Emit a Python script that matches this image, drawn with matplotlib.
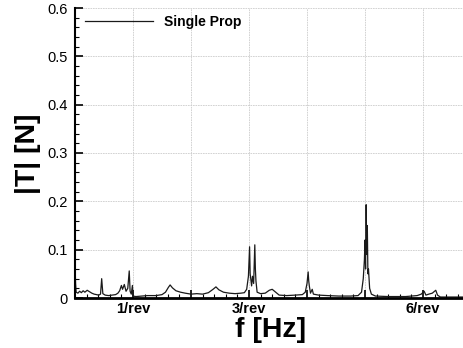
import matplotlib
matplotlib.use("Agg")
import matplotlib.pyplot as plt
from matplotlib.ticker import MultipleLocator

plt.rcParams['font.family'] = ['Liberation Sans', 'DejaVu Sans']

# ── data (x in multiples of rotor frequency) ───────────────────────────────
freq_rev = [0.00, 0.01, 0.02, 0.05, 0.08, 0.11, 0.14, 0.17, 0.21, 0.25,
            0.29, 0.33, 0.37, 0.41, 0.44, 0.46, 0.48, 0.52, 0.58, 0.64,
            0.70, 0.74, 0.77, 0.80, 0.82, 0.85, 0.88, 0.91, 0.935, 0.95,
            0.97, 0.99, 1.00, 1.05, 1.15, 1.25, 1.40, 1.50, 1.56, 1.61,
            1.64, 1.68, 1.74, 1.82, 1.90, 2.00, 2.10, 2.20, 2.30, 2.38,
            2.43, 2.48, 2.56, 2.66, 2.76, 2.86, 2.92, 2.96, 2.99, 3.01,
            3.02, 3.03, 3.045, 3.06, 3.08, 3.10, 3.11, 3.12, 3.14, 3.20,
            3.28, 3.35, 3.40, 3.46, 3.52, 3.65, 3.80, 3.92, 3.97, 4.00,
            4.02, 4.03, 4.04, 4.06, 4.09, 4.11, 4.20, 4.35, 4.55, 4.75,
            4.88, 4.94, 4.97, 4.99, 5.00, 5.01, 5.02, 5.03, 5.04, 5.05,
            5.06, 5.08, 5.11, 5.18, 5.40, 5.70, 5.90, 5.97, 6.02, 6.05,
            6.10, 6.16, 6.22, 6.25, 6.30, 6.70]
thrust = [0.072, 0.030, 0.012, 0.010, 0.014, 0.011, 0.015, 0.012, 0.016, 0.013,
          0.010, 0.008, 0.007, 0.006, 0.008, 0.040, 0.009, 0.006, 0.005, 0.006,
          0.007, 0.010, 0.015, 0.026, 0.018, 0.028, 0.014, 0.020, 0.056, 0.014,
          0.008, 0.026, 0.004, 0.003, 0.004, 0.005, 0.005, 0.007, 0.012, 0.022,
          0.027, 0.021, 0.015, 0.012, 0.010, 0.008, 0.009, 0.008, 0.011, 0.018,
          0.023, 0.017, 0.012, 0.010, 0.009, 0.010, 0.011, 0.018, 0.045, 0.106,
          0.050, 0.040, 0.025, 0.045, 0.030, 0.110, 0.060, 0.035, 0.012, 0.009,
          0.010, 0.016, 0.018, 0.012, 0.006, 0.005, 0.006, 0.007, 0.012, 0.030,
          0.054, 0.035, 0.025, 0.010, 0.018, 0.008, 0.006, 0.005, 0.004, 0.004,
          0.005, 0.012, 0.040, 0.080, 0.120, 0.060, 0.193, 0.090, 0.150, 0.050,
          0.060, 0.020, 0.008, 0.004, 0.003, 0.003, 0.005, 0.008, 0.014, 0.006,
          0.008, 0.010, 0.016, 0.006, 0.002, 0.002]

x_ticks = [0, 1, 2, 3, 4, 5, 6]
x_tick_labels = ['', '1/rev', '', '3/rev', '', '', '6/rev']
y_ticks = [0, 0.1, 0.2, 0.3, 0.4, 0.5, 0.6]
y_tick_labels = ['0', '0.1', '0.2', '0.3', '0.4', '0.5', '0.6']

# ── figure ────────────────────────────────────────────────────────────────
fig = plt.figure(figsize=(4.64, 3.48), dpi=100)
ax = fig.add_axes([75 / 464, 1 - 298 / 348, 389 / 464, 290 / 348])

ax.plot(freq_rev, thrust, color='#1a1a1a', lw=0.9, label='Single Prop')

ax.set_xlim(0, 389 / 58)
ax.set_ylim(0, 0.6)

ax.set_xticks(x_ticks)
ax.set_xticklabels(x_tick_labels, fontweight='bold', fontsize=10.5)
ax.set_yticks(y_ticks)
ax.set_yticklabels(y_tick_labels, fontsize=10.5)
ax.xaxis.set_minor_locator(MultipleLocator(0.2))
ax.yaxis.set_minor_locator(MultipleLocator(0.02))

ax.tick_params(which='major', direction='in', length=6, width=1.2,
               color='black')
ax.tick_params(which='minor', direction='in', length=3, width=0.8,
               color='black')
ax.tick_params(axis='x', which='major', pad=3)
ax.tick_params(axis='y', which='major', pad=5)

ax.grid(True, which='major', color='#cccccc', lw=0.6, ls=(0, (2, 1)))

for side in ('top', 'right'):
    ax.spines[side].set_visible(False)
ax.spines['bottom'].set_linewidth(2.0)
ax.spines['left'].set_linewidth(1.5)

ax.legend(loc='upper left', bbox_to_anchor=(10 / 389, 0.975),
          frameon=False, borderpad=0, borderaxespad=0,
          handlelength=4.9, handletextpad=0.8,
          prop={'weight': 'bold', 'size': 10})

fig.text(28 / 464, 1 - 154 / 348, '|T| [N]', rotation=90, ha='center',
         va='center', fontsize=20.5, fontweight='bold')
fig.text(271 / 464, 1 - 330 / 348, 'f [Hz]', ha='center', va='center',
         fontsize=20.5, fontweight='bold')

fig.savefig('out.png', dpi=100)
